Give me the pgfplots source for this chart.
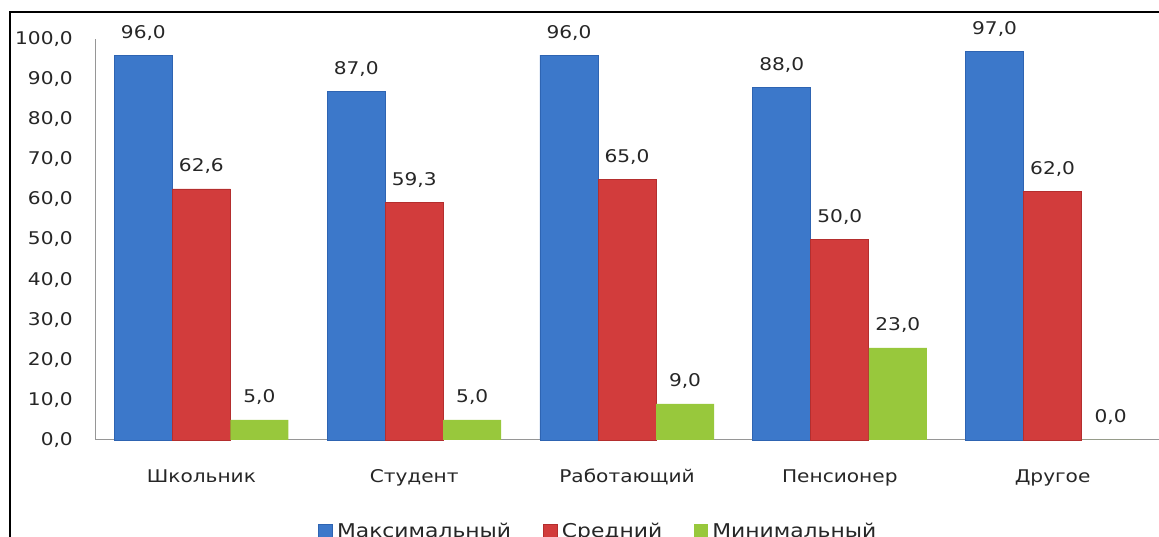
\documentclass[border=0pt]{standalone}
\usepackage{fontspec}
\setmainfont[FakeStretch=1.15]{DejaVu Sans}
\usepackage{pgfplots}
\pgfplotsset{compat=1.18}

\definecolor{maxC}{RGB}{60,120,202}
\definecolor{maxD}{RGB}{46,100,178}
\definecolor{midC}{RGB}{210,60,60}
\definecolor{midD}{RGB}{180,46,46}
\definecolor{minC}{RGB}{152,200,60}
\definecolor{txt}{RGB}{38,38,38}
\definecolor{axgray}{RGB}{150,150,150}

\begin{document}
\fontsize{17.5}{21}\selectfont
\begin{tikzpicture}[x=1pt,y=1pt]
\pgfkeys{/pgf/number format/.cd, fixed, fixed zerofill, precision=1, use comma, assume math mode=true}
\useasboundingbox (0,0) rectangle (1159,537);
% outer frame (bottom and right are cut off)
\draw[black, line width=1.5pt] (10,-5) -- (10,525) -- (1165,525);

\begin{axis}[
    at={(95pt,97pt)}, anchor=south west,
    scale only axis,
    width=1064pt, height=401pt,
    xmin=-0.5, xmax=4.5,
    ymin=0, ymax=100,
    axis x line*=bottom, axis y line*=left,
    axis line style={axgray, line width=1pt},
    major tick length=0pt,
    ytick={0,10,...,100},
    xtick={0,1,2,3,4},
    xticklabels={Школьник, Студент, Работающий, Пенсионер, Другое},
    xticklabel style={anchor=base, yshift=-43pt, text=txt},
    yticklabel style={anchor=east, inner sep=0pt, xshift=-22pt, text=txt},
    ybar=0pt, bar width=0.2726,
    clip=false,
    nodes near coords,
    every node near coord/.append style={anchor=base, inner sep=0pt, yshift=17pt, text=txt},
    legend columns=-1,
    legend style={at={(rel axis cs:0.2096,-0.2294)}, anchor=west, draw=none, fill=none,
        inner sep=0pt, text=txt, font=\fontsize{19}{22}\selectfont,
        /tikz/every even column/.append style={column sep=30pt},
        /tikz/every odd column/.append style={column sep=2pt}},
    legend image code/.code={\path[#1] (0pt,-6pt) rectangle (14pt,8pt);},
]
\addplot[fill=maxC, draw=maxD, line width=0.8pt]
  coordinates {(0,96) (1,87) (2,96) (3,88) (4,97)};
\addplot[fill=midC, draw=midD, line width=0.8pt]
  coordinates {(0,62.6) (1,59.3) (2,65) (3,50) (4,62)};
\addplot[fill=minC, draw=none]
  coordinates {(0,5) (1,5) (2,9) (3,23) (4,0)};
\legend{Максимальный, Средний, Минимальный}
\end{axis}
\end{tikzpicture}
\end{document}
